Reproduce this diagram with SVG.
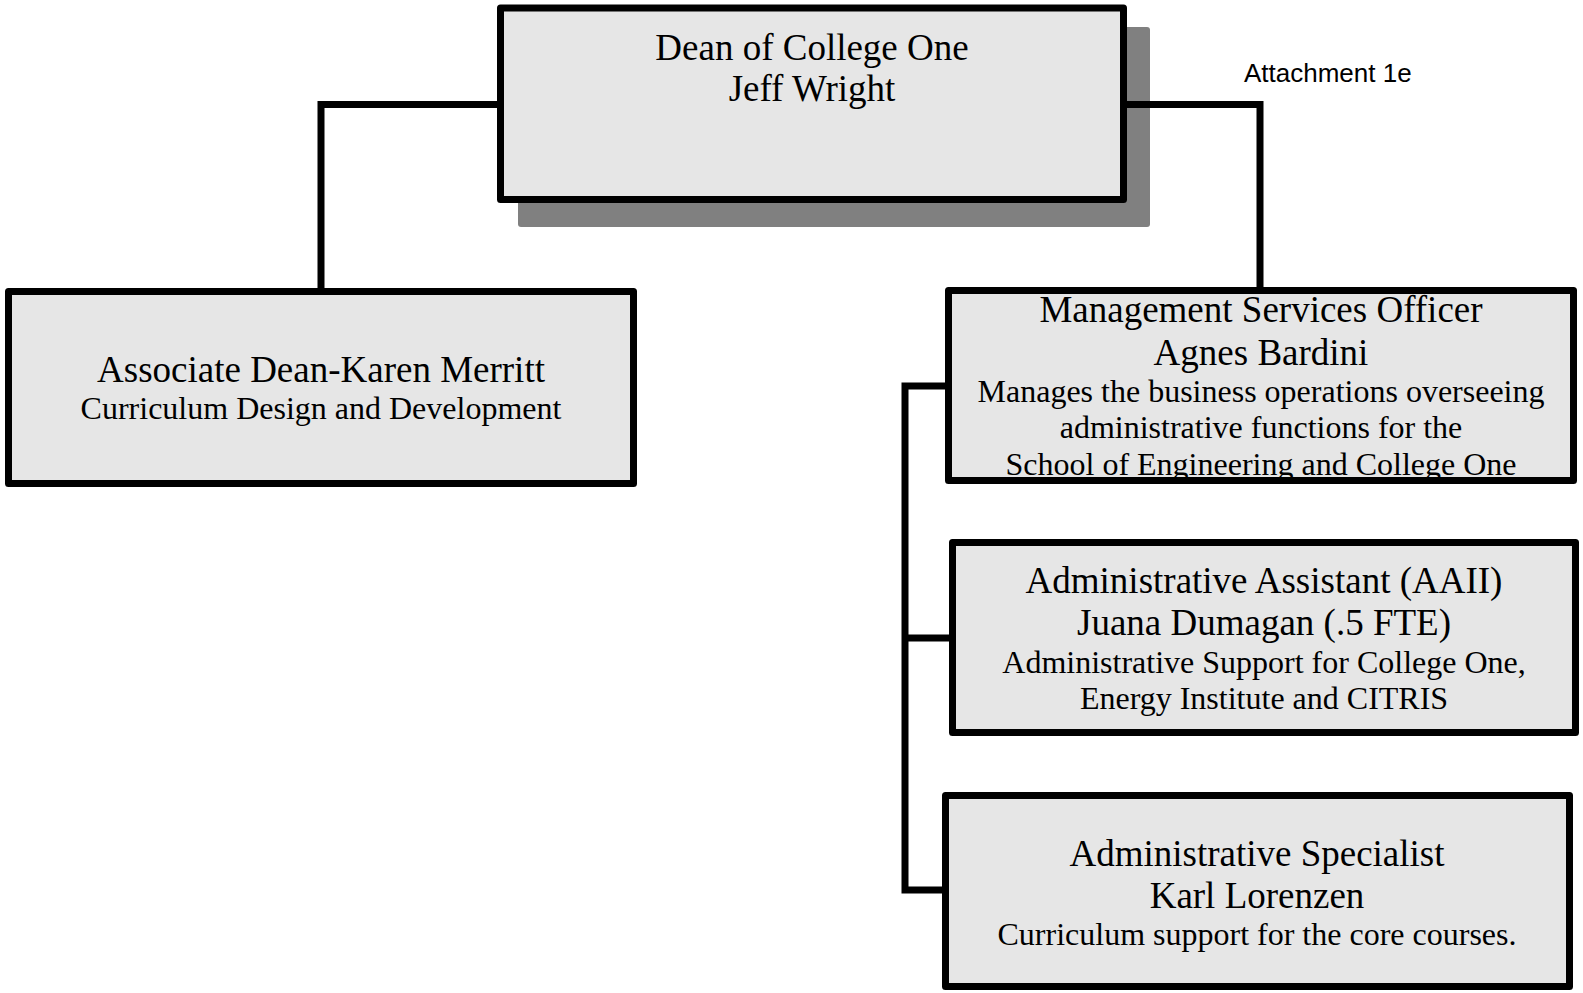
<svg xmlns="http://www.w3.org/2000/svg" width="1583" height="993" viewBox="0 0 1583 993">
<style>
.box{fill:#e6e6e6;stroke:#000;stroke-width:7;stroke-linejoin:round}
.conn{fill:none;stroke:#000;stroke-width:7;stroke-linejoin:miter;stroke-linecap:butt}
.t{font-family:"Liberation Serif","Times New Roman",serif;fill:#000;text-anchor:middle}
.big{font-size:37px}
.small{font-size:32px}
.att{font-family:"Liberation Sans",Arial,sans-serif;font-size:26px;fill:#000}
</style>
<rect width="1583" height="993" fill="#fff"/>
<rect id="dean-shadow" x="518" y="27" width="632" height="200" rx="3" fill="#808080"/>
<g id="connectors">
<path class="conn" d="M501 104.5H321V288"/>
<path class="conn" d="M1124 104.5H1260V287"/>
<path class="conn" d="M946 386H905V890H942"/>
<path class="conn" d="M905 638H949"/>
</g>
<g id="dean">
<rect class="box" x="500.5" y="8" width="623" height="191.5"/>
<text class="t big" x="812" y="60">Dean of College One</text>
<text class="t big" x="812" y="101">Jeff Wright</text>
</g>
<g id="associate-dean">
<rect class="box" x="8.5" y="291.5" width="625" height="192"/>
<text class="t big" x="321" y="382">Associate Dean-Karen Merritt</text>
<text class="t small" x="321" y="419">Curriculum Design and Development</text>
</g>
<g id="mso">
<rect class="box" x="948.5" y="290.5" width="625" height="190"/>
<text class="t big" x="1261" y="322">Management Services Officer</text>
<text class="t big" x="1261" y="364.5">Agnes Bardini</text>
<text class="t small" x="1261" y="401.5">Manages the business operations overseeing</text>
<text class="t small" x="1261" y="438">administrative functions for the</text>
<text class="t small" x="1261" y="474.5">School of Engineering and College One</text>
</g>
<g id="admin-assistant">
<rect class="box" x="952.5" y="542.5" width="623" height="190"/>
<text class="t big" x="1264" y="592.5">Administrative Assistant (AAII)</text>
<text class="t big" x="1264" y="634.5">Juana Dumagan (.5 FTE)</text>
<text class="t small" x="1264" y="673">Administrative Support for College One,</text>
<text class="t small" x="1264" y="709">Energy Institute and CITRIS</text>
</g>
<g id="admin-specialist">
<rect class="box" x="945.5" y="795.5" width="624" height="191"/>
<text class="t big" x="1257" y="866">Administrative Specialist</text>
<text class="t big" x="1257" y="908">Karl Lorenzen</text>
<text class="t small" x="1257" y="945">Curriculum support for the core courses.</text>
</g>
<text class="att" x="1244" y="81.5">Attachment 1e</text>
</svg>
